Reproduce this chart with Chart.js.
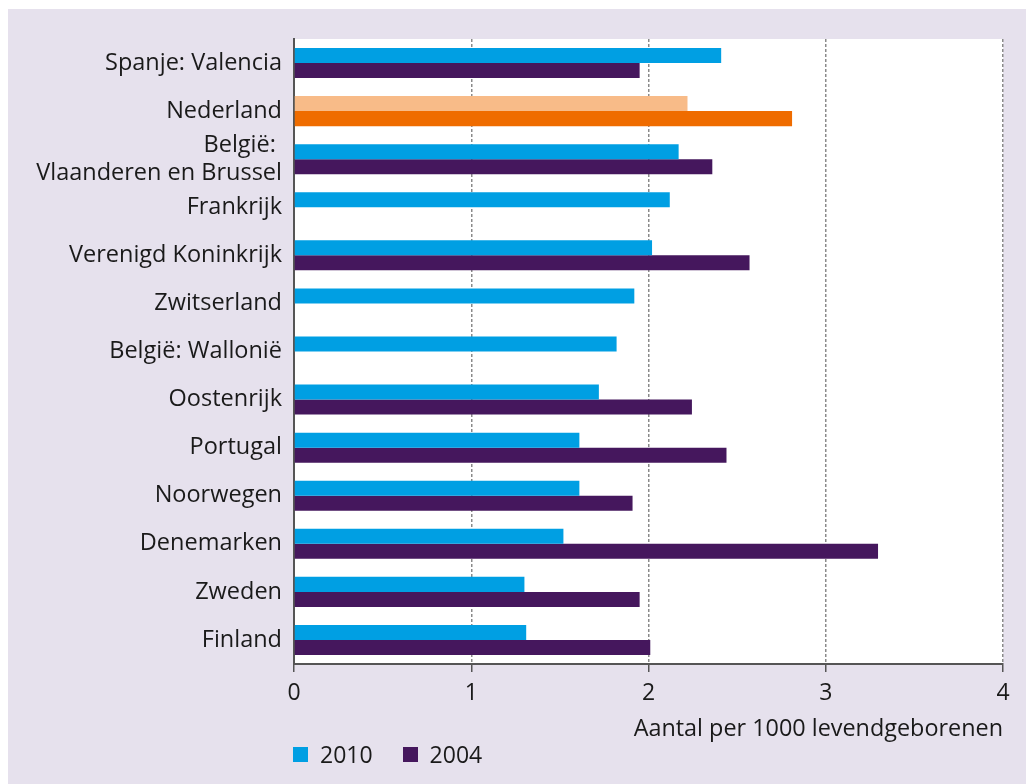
<!DOCTYPE html>
<html>
<head>
<meta charset="utf-8">
<script src="https://cdn.jsdelivr.net/npm/chart.js@4/dist/chart.umd.min.js"></script>
<style>
  html, body { margin: 0; padding: 0; background: #fff; }
  body { width: 1026px; height: 784px; position: relative; overflow: hidden; font-family: "Open Sans", sans-serif; }
  #panel { position: absolute; left: 8px; top: 9px; width: 1018px; height: 775px; background: #e6e1ed; }
  #chart { position: absolute; left: 0; top: 0; }
  #legend { position: absolute; left: 285px; top: 729px; display: flex; align-items: center; font-size: 23px; color: #1a1a1a; }
  #legend span.box { display: inline-block; width: 15px; height: 15px; margin-right: 12px; }
  #legend span.item { display: flex; align-items: center; margin-right: 30px; }
</style>
</head>
<body>
<div id="panel">
  <canvas id="chart" width="1018" height="775"></canvas>
  <div id="legend"></div>
</div>
<script>
const categories = [
  "Spanje: Valencia",
  "Nederland",
  ["België: ", "Vlaanderen en Brussel"],
  "Frankrijk",
  "Verenigd Koninkrijk",
  "Zwitserland",
  "België: Wallonië",
  "Oostenrijk",
  "Portugal",
  "Noorwegen",
  "Denemarken",
  "Zweden",
  "Finland"
];
const seriesNames = ["2010", "2004"];
const values2010 = [2.41, 2.22, 2.17, 2.12, 2.02, 1.92, 1.82, 1.72, 1.61, 1.61, 1.52, 1.30, 1.31];
const values2004 = [1.95, 2.81, 2.36, null, 2.57, null, null, 2.245, 2.44, 1.91, 3.295, 1.95, 2.01];
const xTicks = [0, 1, 2, 3, 4];
const xTitle = "Aantal per 1000 levendgeborenen";

const blue = "#009fe3";
const purple = "#45175d";
const lightOrange = "#f8bb88";
const orange = "#ef6c00";
const highlight = "Nederland";

const colors2010 = categories.map(c => c === highlight ? lightOrange : blue);
const colors2004 = categories.map(c => c === highlight ? orange : purple);

// white plot area
const plotBg = {
  id: "plotBg",
  beforeDraw(chart) {
    const { ctx, chartArea: a } = chart;
    ctx.save();
    ctx.fillStyle = "#ffffff";
    ctx.fillRect(a.left, a.top, a.right - a.left, a.bottom - a.top);
    ctx.restore();
  }
};

const ctx = document.getElementById("chart").getContext("2d");
const chart = new Chart(ctx, {
  type: "bar",
  data: {
    labels: categories,
    datasets: [
      { label: seriesNames[0], data: values2010, backgroundColor: colors2010 },
      { label: seriesNames[1], data: values2004, backgroundColor: colors2004 }
    ]
  },
  options: {
    indexAxis: "y",
    responsive: false,
    animation: false,
    categoryPercentage: 0.625,
    barPercentage: 1,
    layout: { padding: { top: 30, right: 23, bottom: 41, left: 0 } },
    plugins: { legend: { display: false }, tooltip: { enabled: false } },
    scales: {
      x: {
        min: 0,
        max: 4,
        afterBuildTicks: (s) => { s.ticks = xTicks.map(v => ({ value: v })); },
        afterFit: (s) => { s.height = 79; },
        grid: {
          color: "#8a8a8a",
          lineWidth: 1.5,
          tickLength: 8,
          tickColor: "#555555",
          tickWidth: 1.5,
          tickBorderDash: []
        },
        border: { display: true, color: "#555555", width: 2, dash: [3, 2] },
        ticks: {
          color: "#1a1a1a",
          padding: 8,
          font: { family: "Open Sans", size: 23, lineHeight: 1.2 }
        },
        title: {
          display: true,
          text: xTitle,
          align: "end",
          color: "#1a1a1a",
          padding: { top: 5, bottom: 0 },
          font: { family: "Open Sans", size: 23.4, lineHeight: 1.2 }
        }
      },
      y: {
        afterFit: (s) => { s.width = 286; },
        grid: { display: false, drawTicks: false },
        border: { display: true, color: "#555555", width: 2 },
        ticks: {
          color: "#1a1a1a",
          padding: 12,
          labelOffset: 0,
          autoSkip: false,
          font: { family: "Open Sans", size: 23.5, lineHeight: 1.2 }
        }
      }
    }
  },
  plugins: [plotBg]
});

const legend = document.getElementById("legend");
[blue, purple].forEach((col, i) => {
  const item = document.createElement("span");
  item.className = "item";
  const box = document.createElement("span");
  box.className = "box";
  box.style.background = col;
  item.appendChild(box);
  item.appendChild(document.createTextNode(seriesNames[i]));
  legend.appendChild(item);
});
</script>
</body>
</html>
